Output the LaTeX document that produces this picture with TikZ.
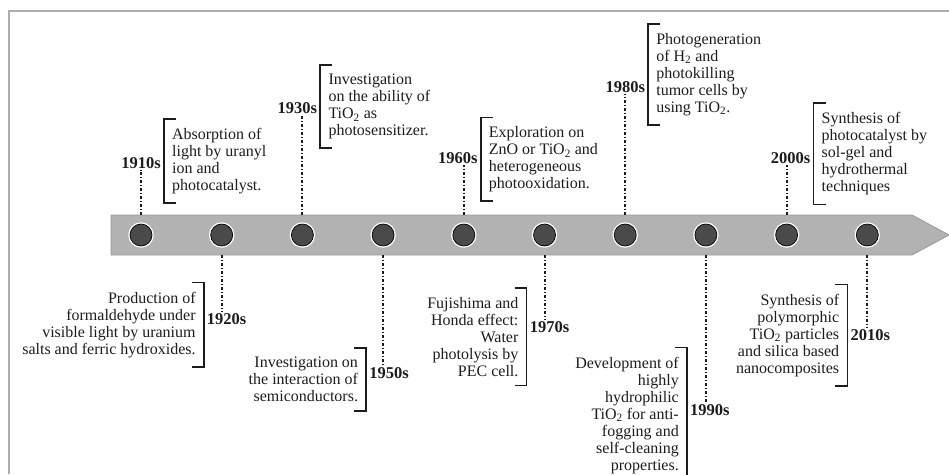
\documentclass[tikz,border=0pt]{standalone}
\usepackage{fontspec}
\setmainfont{Liberation Serif}
\usepackage{xcolor}
\usepackage{tikz}
\usetikzlibrary{positioning}

\definecolor{bandgray}{HTML}{B2B2B2}
\definecolor{bandedge}{HTML}{9A9A9A}
\definecolor{dotgray}{HTML}{4A4A4A}
\definecolor{framegray}{HTML}{ADADAD}
\definecolor{inkgray}{HTML}{1C1C1C}
\newcommand{\tiox}{TiO\textsubscript{2}}

\begin{document}
\begin{tikzpicture}[
    x=1pt, y=-1pt,
    every node/.style={text=inkgray},
    dot/.style={circle, minimum size=22pt, inner sep=0pt, fill=dotgray, draw=black, line width=0.7pt,
        preaction={draw=white, line width=3.4pt}},
    year/.style={font=\fontsize{16.5}{17}\selectfont\bfseries, inner sep=1pt},
    note/.style={font=\fontsize{16}{17}\selectfont, inner xsep=8pt, inner ysep=9pt},
    upnote/.style={note, align=left},
    downnote/.style={note, align=right},
    tick/.style={inkgray, line width=2pt, dash pattern=on 3pt off 2pt on 1pt off 2pt, shorten <=20pt},
    brk/.style={inkgray, line width=1.8pt}
]
    \useasboundingbox (0,0) rectangle (949,474);
    \draw[framegray, line width=1.5pt] (9,474) -- (9,11) -- (949,11);

    % timeline band
    \draw[fill=bandgray, draw=bandedge, line width=0.8pt]
        (111,215) -- (912,215) -- (949,235) -- (912,255) -- (111,255) -- cycle;

    \foreach \yr [count=\i from 0] in {1910,1920,1930,1950,1960,1970,1980,1990,2000,2010}
        \node[dot] (c\yr) at ({141+80.7*\i},235) {};

    % decades above
    \node[year, above=54pt of c1910] (y1910) {1910s};
    \node[year, above=109pt of c1930, xshift=-5pt] (y1930) {1930s};
    \node[year, above=59pt of c1960, xshift=-6pt] (y1960) {1960s};
    \node[year, above=130pt of c1980] (y1980) {1980s};
    \node[year, above=59pt of c2000, xshift=4pt] (y2000) {2000s};

    % decades below
    \node[year, below=66pt of c1920, xshift=5pt] (y1920) {1920s};
    \node[year, below=120pt of c1950, xshift=6pt] (y1950) {1950s};
    \node[year, below=74pt of c1970, xshift=5pt] (y1970) {1970s};
    \node[year, below=157pt of c1990, xshift=4pt] (y1990) {1990s};
    \node[year, below=82pt of c2010, xshift=3pt] (y2010) {2010s};

    \node[upnote, right=2pt of y1910, yshift=2pt] (t1910)
        {Absorption of\\light by uranyl\\ion and\\photocatalyst.};
    \node[upnote, right=2pt of y1930, yshift=1.5pt] (t1930)
        {Investigation\\on the ability of\\\tiox{} as\\photosensitizer.};
    \node[upnote, right=2pt of y1960, yshift=-1.5pt] (t1960)
        {Exploration on\\ZnO or \tiox{} and\\heterogeneous\\photooxidation.};
    \node[upnote, right=2pt of y1980, yshift=12.5pt] (t1980)
        {Photogeneration\\of H\textsubscript{2} and\\photokilling\\tumor cells by\\using \tiox.};
    \node[upnote, right=2pt of y2000, yshift=4pt] (t2000)
        {Synthesis of\\photocatalyst by\\sol-gel and\\hydrothermal\\techniques};

    \node[downnote, left=2pt of y1920, yshift=-5.5pt] (t1920)
        {Production of\\formaldehyde under\\visible light by uranium\\salts and ferric hydroxides.};
    \node[downnote, left=2pt of y1950, yshift=-6.5pt] (t1950)
        {Investigation on\\the interaction of\\semiconductors.};
    \node[downnote, left=2pt of y1970, yshift=-9.5pt] (t1970)
        {Fujishima and\\Honda effect:\\Water\\photolysis by\\PEC cell.};
    \node[downnote, left=2pt of y1990, yshift=-5pt] (t1990)
        {Development of\\highly\\hydrophilic\\\tiox{} for anti-\\fogging and\\self-cleaning\\properties.};
    \node[downnote, left=2pt of y2010] (t2010)
        {Synthesis of\\polymorphic\\\tiox{} particles\\and silica based\\nanocomposites};

    % dotted leaders
    \foreach \yr in {1910,1930,1960,1980,2000}
        \draw[tick] (c\yr.center) -- (c\yr.center |- y\yr.south);
    \foreach \yr in {1920,1950,1970,1990,2010}
        \draw[tick] (c\yr.center) -- (c\yr.center |- y\yr.north);

    % brackets
    \foreach \n in {t1910,t1930,t1960,t1980,t2000}
        \draw[brk] ([xshift=12pt]\n.north west) -- (\n.north west) -- (\n.south west) -- ([xshift=12pt]\n.south west);
    \foreach \n in {t1920,t1950,t1970,t1990,t2010}
        \draw[brk] ([xshift=-12pt]\n.north east) -- (\n.north east) -- (\n.south east) -- ([xshift=-12pt]\n.south east);
\end{tikzpicture}
\end{document}
